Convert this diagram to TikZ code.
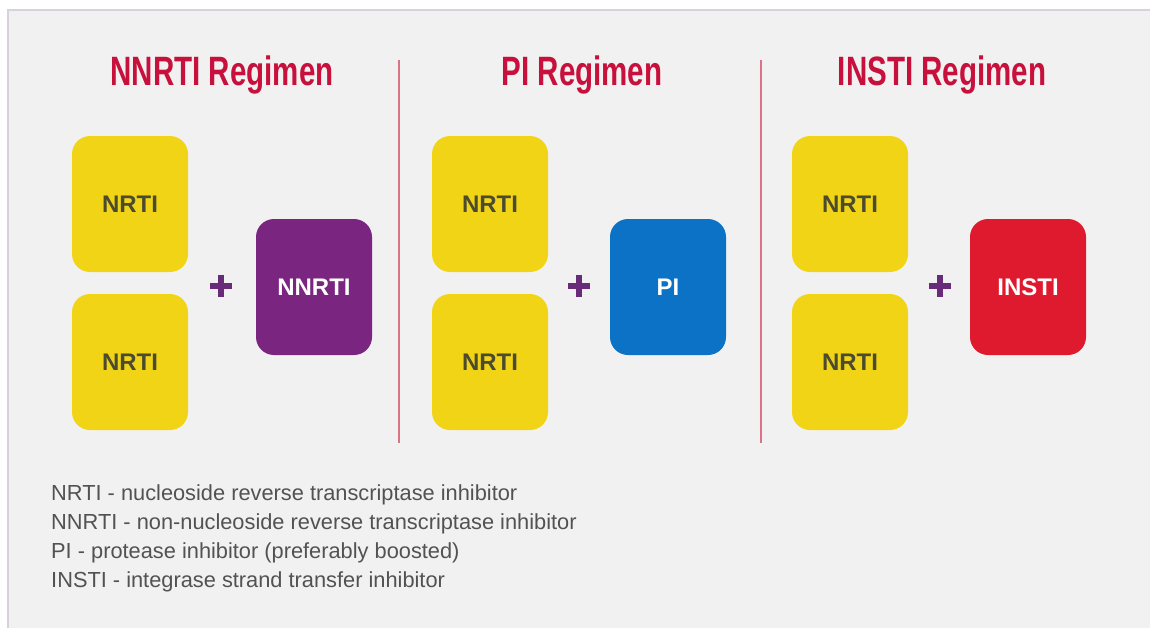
\documentclass[tikz,border=0pt]{standalone}
\usepackage{fontspec}
\setmainfont{Liberation Sans}
\newfontfamily\titlefont[FakeStretch=0.72]{Liberation Sans}
\definecolor{panelgray}{HTML}{F1F1F2}
\definecolor{paneledge}{HTML}{D8D0DC}
\definecolor{nrtiyellow}{HTML}{F2D417}
\definecolor{nrtitext}{HTML}{4B4B30}
\definecolor{nnrtipurple}{HTML}{7A2681}
\definecolor{piblue}{HTML}{0B72C5}
\definecolor{instired}{HTML}{E01A2E}
\definecolor{titlered}{HTML}{C8103C}
\definecolor{divline}{HTML}{D87585}
\definecolor{pluspurple}{HTML}{6A2A7A}
\definecolor{legendgray}{HTML}{525252}
\tikzset{
  drug/.style={rounded corners=18pt, minimum width=116pt, minimum height=136pt, inner sep=0pt,
    font=\bfseries\fontsize{24}{24}\selectfont},
  nrti/.style={drug, fill=nrtiyellow, text=nrtitext},
  regtitle/.style={text=titlered, font=\titlefont\bfseries\fontsize{41}{41}\selectfont, anchor=base},
  plussign/.style={minimum size=22pt, inner sep=0pt},
  plusbar/.style={pluspurple, line width=6pt},
  legend/.style={anchor=base west, text=legendgray, inner sep=0pt, font=\fontsize{21.8}{21.8}\selectfont}
}
\begin{document}
\begin{tikzpicture}[x=1pt,y=-1pt]
  \useasboundingbox (0,0) rectangle (1150,630);
  \fill[white] (0,0) rectangle (1150,630);
  \fill[panelgray] (7,9) rectangle (1150,628);
  \draw[paneledge, line width=2pt] (8,628) -- (8,10) -- (1150,10);
  % regimens
  \foreach \c/\x/\name/\col/\px/\bx in {1/130/NNRTI/nnrtipurple/221/314,
                                       2/490/PI/piblue/579/668,
                                       3/850/INSTI/instired/940/1028} {
    \node[regtitle] (title\c) at (\x+92,85) {\name\ Regimen};
    \node[nrti] (top\c) at (\x,204) {NRTI};
    \node[nrti] (bot\c) at (\x,362) {NRTI};
    \node[plussign] (plus\c) at (\px,286) {};
    \draw[plusbar] (plus\c.west) -- (plus\c.east) (plus\c.north) -- (plus\c.south);
    \node[drug, fill=\col, text=white] (third\c) at (\bx,287) {\name};
  }
  \foreach \x in {399,761} \draw[divline, line width=1.6pt] (\x,60) -- (\x,443);
  % abbreviations
  \node[legend] (leg1) at (51,500) {NRTI - nucleoside reverse transcriptase inhibitor};
  \node[legend] (leg2) at (51,529) {NNRTI - non-nucleoside reverse transcriptase inhibitor};
  \node[legend] (leg3) at (51,558) {PI - protease inhibitor (preferably boosted)};
  \node[legend] (leg4) at (51,587) {INSTI - integrase strand transfer inhibitor};
\end{tikzpicture}
\end{document}
